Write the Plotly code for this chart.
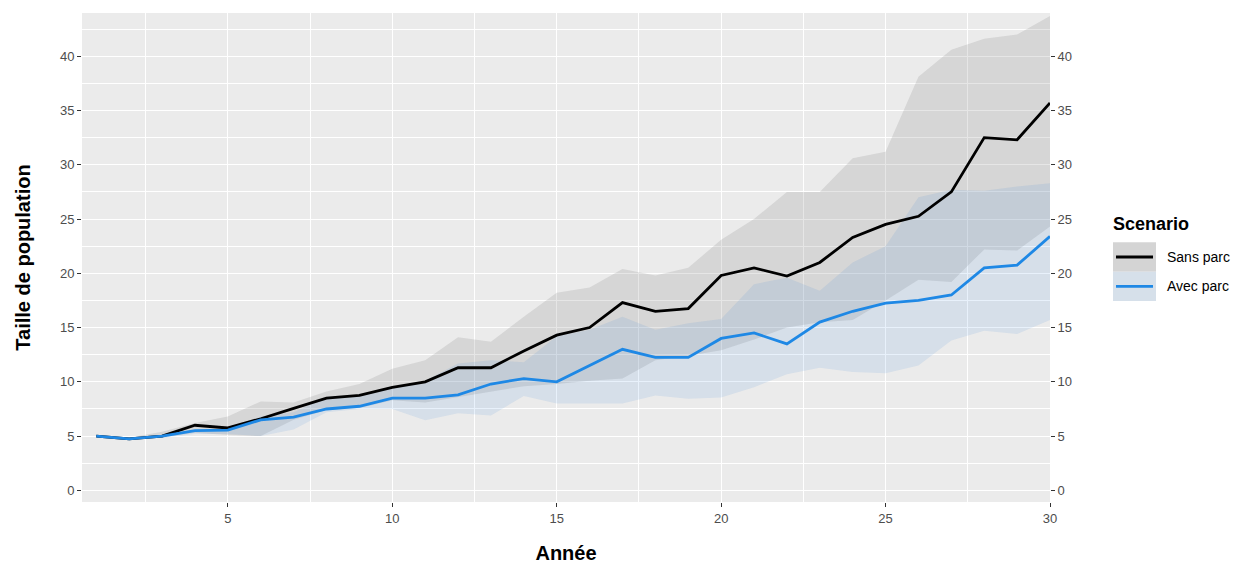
import plotly.graph_objects as go

years = list(range(1, 31))

sans_mean = [5.0, 4.75, 5.0, 6.0, 5.75, 6.6, 7.55, 8.5, 8.75, 9.5, 10.0, 11.3, 11.3, 12.85, 14.3,
             15.0, 17.3, 16.5, 16.75, 19.8, 20.5, 19.75, 21.0, 23.3, 24.5, 25.25, 27.5, 32.5, 32.3, 35.7]
sans_lo = [5.0, 4.7, 4.9, 5.3, 5.1, 5.0, 6.5, 7.4, 7.6, 8.3, 8.1, 8.6, 9.1, 9.6, 9.8,
           10.1, 10.3, 12.0, 12.4, 12.9, 13.9, 15.0, 15.5, 15.7, 17.5, 19.4, 19.2, 22.2, 22.1, 24.3]
sans_hi = [5.0, 4.85, 5.4, 6.2, 6.8, 8.2, 8.1, 9.1, 9.8, 11.2, 12.0, 14.1, 13.7, 16.0, 18.2,
           18.7, 20.4, 19.8, 20.5, 23.1, 25.0, 27.5, 27.5, 30.6, 31.2, 38.1, 40.6, 41.6, 42.0, 43.7]

avec_mean = [5.0, 4.75, 5.0, 5.5, 5.55, 6.5, 6.75, 7.5, 7.75, 8.5, 8.5, 8.8, 9.8, 10.3, 10.0,
             11.5, 13.0, 12.25, 12.25, 14.0, 14.5, 13.5, 15.5, 16.5, 17.25, 17.5, 18.0, 20.5, 20.75, 23.4]
avec_lo = [5.0, 4.7, 4.85, 5.2, 5.2, 5.0, 5.6, 7.2, 7.5, 7.5, 6.45, 7.1, 6.9, 8.7, 8.0,
           8.0, 8.0, 8.75, 8.45, 8.55, 9.5, 10.7, 11.3, 10.9, 10.8, 11.5, 13.8, 14.7, 14.4, 15.7]
avec_hi = [5.0, 4.8, 5.1, 5.5, 5.7, 6.8, 7.2, 8.6, 8.8, 9.4, 10.1, 11.7, 12.0, 11.8, 14.2,
           14.8, 16.0, 14.8, 15.4, 15.8, 19.0, 19.6, 18.4, 21.0, 22.5, 27.0, 27.7, 27.6, 28.0, 28.3]

scenarios = ["Sans parc", "Avec parc"]
y_ticks = [0, 5, 10, 15, 20, 25, 30, 35, 40]
x_ticks = [5, 10, 15, 20, 25, 30]

line_colors = {"Sans parc": "#000000", "Avec parc": "#1E88E5"}
fill_colors = {"Sans parc": "rgba(128,128,128,0.2)", "Avec parc": "rgba(25,115,215,0.1)"}

FONT = "Liberation Sans, Arial, sans-serif"

fig = go.Figure()

data = {
    "Sans parc": (sans_mean, sans_lo, sans_hi),
    "Avec parc": (avec_mean, avec_lo, avec_hi),
}

for sc in scenarios:
    m, lo, hi = data[sc]
    fig.add_trace(go.Scatter(
        x=years + years[::-1], y=hi + lo[::-1], fill="toself",
        fillcolor=fill_colors[sc], line=dict(width=0), mode="lines",
        showlegend=False, hoverinfo="skip"))

for sc in scenarios:
    m, lo, hi = data[sc]
    fig.add_trace(go.Scatter(
        x=years, y=m, mode="lines", name=sc,
        line=dict(color=line_colors[sc], width=2.8), showlegend=False))

# invisible trace for the right-hand duplicated axis
fig.add_trace(go.Scatter(x=[years[0]], y=[sans_mean[0]], yaxis="y2", mode="markers",
                         marker=dict(opacity=0), showlegend=False, hoverinfo="skip"))

L, R, T, B = 82, 184, 13, 62
W, H = 1234, 564
PW, PH = W - L - R, H - T - B


def px(x):
    return (x - L) / PW


def py(y):
    return (H - B - y) / PH


yr = [-1.07, 43.98]
axis_common = dict(
    ticks="outside", ticklen=4, tickwidth=1, tickcolor="#333333",
    tickfont=dict(family=FONT, size=13, color="#4D4D4D"),
    showline=False, zeroline=False, automargin=False,
)

fig.update_layout(
    width=W, height=H,
    margin=dict(l=L, r=R, t=T, b=B),
    paper_bgcolor="white", plot_bgcolor="#EBEBEB",
    font=dict(family=FONT),
    xaxis=dict(
        range=[0.565, 30], tickvals=x_ticks, ticktext=[str(v) for v in x_ticks],
        showgrid=True, gridcolor="white", gridwidth=1.2,
        minor=dict(tickvals=[2.5, 7.5, 12.5, 17.5, 22.5, 27.5], showgrid=True,
                   gridcolor="white", gridwidth=0.5, ticks=""),
        title=dict(text="<b>Année</b>", font=dict(family=FONT, size=20, color="black"), standoff=26),
        **axis_common,
    ),
    yaxis=dict(
        range=yr, tickvals=y_ticks, ticktext=[str(v) for v in y_ticks],
        showgrid=True, gridcolor="white", gridwidth=1.2,
        minor=dict(tickvals=[2.5, 7.5, 12.5, 17.5, 22.5, 27.5, 32.5, 37.5, 42.5], showgrid=True,
                   gridcolor="white", gridwidth=0.5, ticks=""),
        title=dict(text="<b>Taille de population</b>", font=dict(family=FONT, size=20, color="black"),
                   standoff=23),
        **axis_common,
    ),
    yaxis2=dict(
        range=yr, tickvals=y_ticks, ticktext=[str(v) for v in y_ticks],
        overlaying="y", side="right", showgrid=False,
        **axis_common,
    ),
)

# legend drawn by hand (ggplot-like keys)
keys = [("Sans parc", 242.3, 271.7, "rgba(212,212,212,1)"),
        ("Avec parc", 271.7, 301.0, "rgba(214,224,234,1)")]
for name, y0, y1, fc in keys:
    fig.add_shape(type="rect", xref="paper", yref="paper",
                  x0=px(1113), x1=px(1156), y0=py(y1), y1=py(y0),
                  fillcolor=fc, line=dict(width=0), layer="above")
    ym = (y0 + y1) / 2
    fig.add_shape(type="line", xref="paper", yref="paper",
                  x0=px(1116), x1=px(1153), y0=py(ym), y1=py(ym),
                  line=dict(color=line_colors[name], width=2.8), layer="above")
    fig.add_annotation(text=name, xref="paper", yref="paper", x=px(1165), y=py(ym),
                       xanchor="left", yanchor="middle", showarrow=False,
                       font=dict(family=FONT, size=14, color="black"))

fig.add_annotation(text="<b>Scenario</b>", xref="paper", yref="paper", x=px(1111), y=py(224),
                   xanchor="left", yanchor="middle", showarrow=False,
                   font=dict(family=FONT, size=18, color="black"))

fig.write_html("out.html", config={"displayModeBar": False},
               post_script="document.body.style.margin='0';")
